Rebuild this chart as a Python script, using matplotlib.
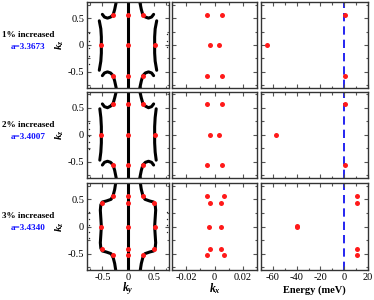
import matplotlib
matplotlib.use("Agg")
import matplotlib.pyplot as plt
from matplotlib.ticker import MultipleLocator

plt.rcParams['font.family'] = ['Liberation Serif', 'DejaVu Serif']
plt.rcParams['axes.unicode_minus'] = False
plt.rcParams['mathtext.fontset'] = 'custom'
plt.rcParams['mathtext.it'] = 'Liberation Serif:italic:bold'
plt.rcParams['mathtext.rm'] = 'Liberation Serif:bold'

# ---------------- data ----------------
row_titles = ["1% increased", "2% increased", "3% increased"]
row_lattice = ["a=3.3673", "a=3.4007", "a=3.4340"]

# Column 1: Fermi-surface contours (ky, kz) per row
r1_lines_ky = [
    [0.0, 0.0],
    [-0.56, -0.53, -0.52, -0.52, -0.52, -0.53, -0.56],
    [0.56, 0.53, 0.52, 0.52, 0.52, 0.53, 0.56],
    [-0.50, -0.46, -0.40, -0.34, -0.29, -0.26, -0.23],
    [0.50, 0.46, 0.40, 0.34, 0.29, 0.26, 0.23],
    [-0.50, -0.46, -0.40, -0.34, -0.29, -0.26, -0.23],
    [0.50, 0.46, 0.40, 0.34, 0.29, 0.26, 0.23],
]
r1_lines_kz = [
    [-0.8, 0.8],
    [0.45, 0.30, 0.15, 0.0, -0.15, -0.30, -0.47],
    [0.45, 0.30, 0.15, 0.0, -0.15, -0.30, -0.47],
    [0.57, 0.52, 0.50, 0.52, 0.56, 0.66, 0.80],
    [0.57, 0.52, 0.50, 0.52, 0.56, 0.66, 0.80],
    [-0.57, -0.52, -0.50, -0.52, -0.57, -0.67, -0.80],
    [-0.57, -0.52, -0.50, -0.52, -0.57, -0.67, -0.80],
]
r2_lines_ky = [
    [0.0, 0.0],
    [-0.55, -0.53, -0.52, -0.52, -0.52, -0.53, -0.55],
    [0.55, 0.53, 0.52, 0.52, 0.52, 0.53, 0.55],
    [-0.50, -0.46, -0.40, -0.34, -0.29, -0.26, -0.23],
    [0.50, 0.46, 0.40, 0.34, 0.29, 0.26, 0.23],
    [-0.50, -0.46, -0.40, -0.34, -0.29, -0.26, -0.23],
    [0.50, 0.46, 0.40, 0.34, 0.29, 0.26, 0.23],
]
r2_lines_kz = [
    [-0.8, 0.8],
    [0.48, 0.32, 0.15, 0.0, -0.15, -0.32, -0.47],
    [0.48, 0.32, 0.15, 0.0, -0.15, -0.32, -0.47],
    [0.57, 0.52, 0.50, 0.53, 0.58, 0.68, 0.80],
    [0.57, 0.52, 0.50, 0.53, 0.58, 0.68, 0.80],
    [-0.56, -0.51, -0.49, -0.51, -0.56, -0.66, -0.80],
    [-0.56, -0.51, -0.49, -0.51, -0.56, -0.66, -0.80],
]
r3_lines_ky = [
    [0.0, 0.0],
    [-0.24, -0.26, -0.29, -0.33, -0.42, -0.50, -0.53, -0.54, -0.53, -0.52,
     -0.53, -0.54, -0.53, -0.50, -0.42, -0.33, -0.29, -0.26, -0.24],
    [0.24, 0.26, 0.29, 0.33, 0.42, 0.50, 0.53, 0.54, 0.53, 0.52,
     0.53, 0.54, 0.53, 0.50, 0.42, 0.33, 0.29, 0.26, 0.24],
]
r3_lines_kz = [
    [-0.8, 0.8],
    [0.80, 0.68, 0.57, 0.50, 0.47, 0.45, 0.40, 0.30, 0.15, 0.0,
     -0.15, -0.30, -0.40, -0.45, -0.47, -0.50, -0.57, -0.68, -0.80],
    [0.80, 0.68, 0.57, 0.50, 0.47, 0.45, 0.40, 0.30, 0.15, 0.0,
     -0.15, -0.30, -0.40, -0.45, -0.47, -0.50, -0.57, -0.68, -0.80],
]
# faint edge fragments
edge_ky = [[-0.77] * 5 + [0.77] * 3, [-0.77] * 5, [-0.77] * 5 + [0.77] * 4]
edge_kz = [[0.22, 0.08, -0.05, -0.2, -0.35, 0.2, 0.08, -0.04],
           [0.22, 0.1, -0.02, -0.14, -0.26],
           [0.26, 0.14, 0.02, -0.1, -0.22,
            0.26, 0.14, 0.02, -0.1]]

# Weyl points (red) in ky-kz plane
wp_ky = [
    [0, 0, 0, -0.52, 0.52, -0.29, 0.29, -0.29, 0.29],
    [0, 0, 0, -0.52, 0.52, -0.29, 0.29, -0.29, 0.29],
    [0, 0, 0, 0, 0, -0.52, 0.52, -0.50, 0.50, -0.50, 0.50, -0.29, 0.29, -0.29, 0.29],
]
wp_kz = [
    [0.56, 0.0, -0.57, 0.0, 0.0, 0.56, 0.56, -0.57, -0.57],
    [0.57, 0.0, -0.56, 0.0, 0.0, 0.57, 0.57, -0.56, -0.56],
    [0.56, 0.44, 0.0, -0.42, -0.53, 0.0, 0.0, 0.44, 0.44, -0.42, -0.42, 0.56, 0.56, -0.53, -0.53],
]
# Weyl points in kx-kz plane
wp_kx = [
    [-0.005, 0.005, -0.003, 0.003, -0.005, 0.005],
    [-0.005, 0.005, -0.003, 0.003, -0.005, 0.005],
    [-0.0055, 0.0065, -0.0035, 0.0045, -0.0038, 0.0045, -0.0035, 0.0045, -0.0055, 0.0065],
]
wp_kz2 = [
    [0.565, 0.565, 0.0, 0.0, -0.58, -0.58],
    [0.57, 0.57, 0.0, 0.0, -0.56, -0.56],
    [0.56, 0.56, 0.44, 0.44, 0.0, 0.0, -0.42, -0.42, -0.53, -0.53],
]
# Weyl point energies (meV)
wp_E = [
    [-65, 1, 1],
    [-57, 1, 1],
    [-40, -40, 11, 11, 11, 11],
]
wp_kz3 = [
    [0.0, 0.565, -0.58],
    [0.0, 0.57, -0.56],
    [0.01, -0.01, 0.56, 0.44, -0.42, -0.53],
]

lines_ky = [r1_lines_ky, r2_lines_ky, r3_lines_ky]
lines_kz = [r1_lines_kz, r2_lines_kz, r3_lines_kz]

# ---------------- figure ----------------
W, H = 374, 300
fig = plt.figure(figsize=(W / 100, H / 100), dpi=100)

col_x = [(87, 169), (172, 257), (261, 368)]
row_y = [(2, 88), (91.5, 178), (183, 270)]

def add_axes(c, r):
    x0, x1 = col_x[c]
    y0, y1 = row_y[r]
    return fig.add_axes([x0 / W, 1 - y1 / H, (x1 - x0) / W, (y1 - y0) / H])

tick_fs = 7.5
red = '#ff1a1a'
for r in range(3):
    axs = [add_axes(c, r) for c in range(3)]
    for ax in axs:
        ax.set_ylim(-0.8, 0.8)
        ax.yaxis.set_major_locator(MultipleLocator(0.5))
        ax.yaxis.set_minor_locator(MultipleLocator(0.25))
        ax.tick_params(which='both', direction='in', top=True, right=True,
                       labelsize=tick_fs, color='#555555', pad=2)
        ax.tick_params(which='major', length=3.2, width=0.8)
        ax.tick_params(which='minor', length=1.8, width=0.8)
        for s in ax.spines.values():
            s.set_linewidth(1.0)
            s.set_color('#333333')
    a1, a2, a3 = axs
    # col 1
    for ky, kz in zip(lines_ky[r], lines_kz[r]):
        a1.plot(ky, kz, color='black', lw=2.2, solid_capstyle='round', zorder=2)
    a1.plot(edge_ky[r], edge_kz[r], 'o', color='#222222', ms=1.0, mec='none', zorder=2)
    a1.plot(wp_ky[r], wp_kz[r], 'o', color=red, ms=3.6, mec='none', zorder=3)
    a1.set_xlim(-0.8, 0.8)
    a1.xaxis.set_major_locator(MultipleLocator(0.5))
    a1.xaxis.set_minor_locator(MultipleLocator(0.25))
    # col 2
    a2.plot(wp_kx[r], wp_kz2[r], 'o', color=red, ms=3.6, mec='none', zorder=3)
    a2.set_xlim(-0.03, 0.03)
    a2.xaxis.set_major_locator(MultipleLocator(0.02))
    a2.xaxis.set_minor_locator(MultipleLocator(0.01))
    a2.set_yticklabels([])
    # col 3
    a3.axvline(0, color='#0000ee', lw=1.2, ls=(0, (5, 3)), zorder=1)
    a3.plot(wp_E[r], wp_kz3[r], 'o', color=red, ms=3.6, mec='none', zorder=3)
    a3.set_xlim(-70, 20)
    a3.xaxis.set_major_locator(MultipleLocator(20))
    a3.xaxis.set_minor_locator(MultipleLocator(10))
    a3.set_yticklabels([])
    if r < 2:
        for ax in axs:
            ax.set_xticklabels([])
    else:
        a1.set_xticks([-0.5, 0, 0.5])
        a1.set_xticklabels(['-0.5', '0', '0.5'])
        a2.set_xticks([-0.02, 0, 0.02])
        a2.set_xticklabels(['-0.02', '0', '0.02'])
    a1.set_yticks([-0.5, 0, 0.5])
    a1.set_yticklabels(['-0.5', '0', '0.5'])

    yc = (row_y[r][0] + row_y[r][1]) / 2
    fig.text(60 / W, 1 - yc / H, r'$k_z$', rotation=90, ha='center', va='center', fontsize=8)
    fig.text(28 / W, 1 - (yc - 10) / H, row_titles[r], ha='center', va='center',
             fontsize=6.6, fontweight='bold', color='black')
    fig.text(28 / W, 1 - (yc + 2) / H, row_lattice[r], ha='center', va='center',
             fontsize=6.6, fontweight='bold', color='#1010ff')

fig.text(128 / W, 1 - 289 / H, r'$k_y$', ha='center', va='center', fontsize=8.5)
fig.text(215 / W, 1 - 289 / H, r'$k_x$', ha='center', va='center', fontsize=8.5)
fig.text(314 / W, 1 - 290 / H, 'Energy (meV)', ha='center', va='center',
         fontsize=7.5, fontweight='bold')

fig.savefig('out.png', dpi=100)
